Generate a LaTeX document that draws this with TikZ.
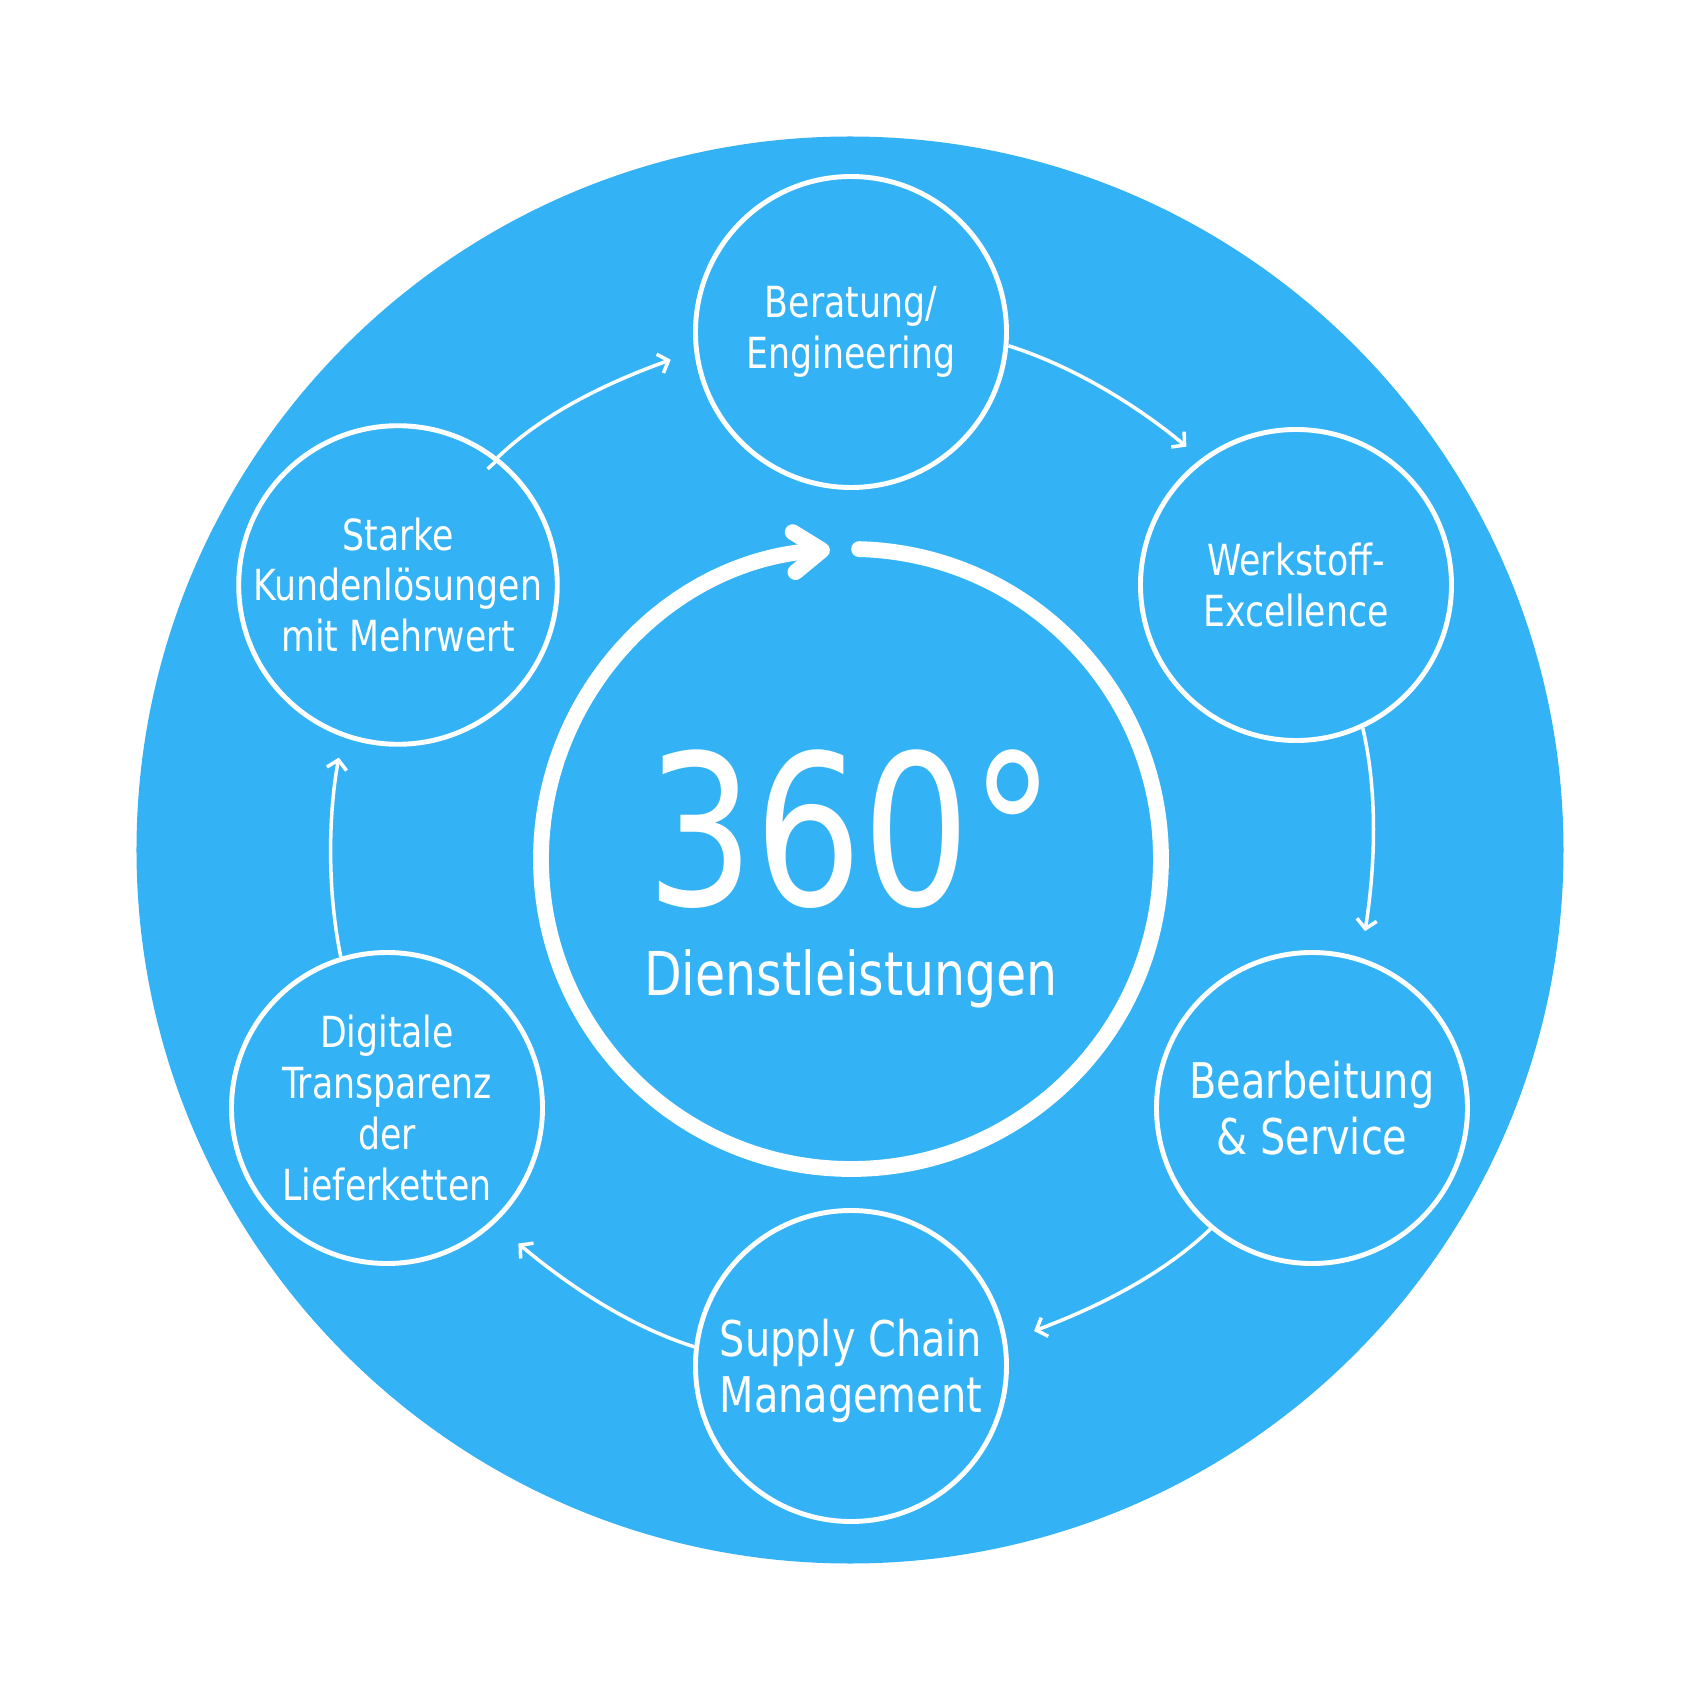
\documentclass[tikz,border=0pt]{standalone}
\usepackage{fontspec}
\setmainfont{DejaVu Sans Condensed}[FakeStretch=0.9]
\usetikzlibrary{arrows.meta}
\definecolor{skyblue}{RGB}{51,178,245}

\begin{document}
\begin{tikzpicture}[>={Straight Barb[length=0.9mm,width=2mm]},
  topic/.style={circle,draw=white,line width=1.4pt,minimum size=3.11cm,inner sep=0pt,
    align=center,text=white,font=\fontsize{12.2}{14.5}\selectfont},
  topic large/.style={topic,font=\fontsize{14}{15.8}\selectfont},
  flow/.style={->,draw=white,line width=1pt,looseness=0.85},
  hub text/.style={text=white,anchor=base,inner sep=0pt}]

  \useasboundingbox[fill=white] (-8.5,-8.5) rectangle (8.5,8.5);
  \fill[skyblue] (0,0) circle (7.135);

  % the six service circles
  \node[topic] (bera) at (0.01,5.18) {Beratung/\\Engineering};
  \node[topic] (werk) at (4.46,2.65) {Werkstoff-\\Excellence};
  \node[topic large] (bear) at (4.62,-2.58) {Bearbeitung\\\& Service};
  \node[topic large,text depth=0pt] (supply) at (0.01,-5.16) {Supply Chain\\Management};
  \node[topic] (digi) at (-4.63,-2.58) {Digitale\\Transparenz\\der\\Lieferketten};
  \node[topic] (starke) at (-4.52,2.65) {Starke\\Kundenlösungen\\mit Mehrwert};

  % inner ring with its arrow
  \coordinate (hub) at (0.01,-0.09);
  \draw[white,line width=4.5pt,line cap=round,-{Straight Barb[round,length=2.8mm,width=4mm]}]
    (hub) ++(88.5:3.1) arc[start angle=88.5,end angle=-266.1,radius=3.1];

  \node[hub text,font=\fontsize{59.7}{60}\selectfont] (deg) at (0.01,-0.55) {360°};
  \node[hub text,font=\fontsize{17.2}{20}\selectfont] (dienst) at (0.01,-1.45) {Dienstleistungen};

  \path[flow]
    (bera.-5) edge[out=-17.5,in=140,shorten >=0.19cm] (werk.127)
    (werk.-65) edge[out=-76.8,in=81,shorten >=0.27cm] (bear.72)
    (bear.230) edge[out=-136.3,in=20.8,shorten >=0.29cm] (supply.9)
    (supply.173) edge[out=162.6,in=-40.2,shorten >=0.31cm] (digi.-47)
    (digi.107) edge[out=101.6,in=259.4,shorten >=0.21cm] (starke.250)
    (starke.52) edge[out=44,in=199.9,shorten >=0.25cm] (bera.187);

\end{tikzpicture}
\end{document}
